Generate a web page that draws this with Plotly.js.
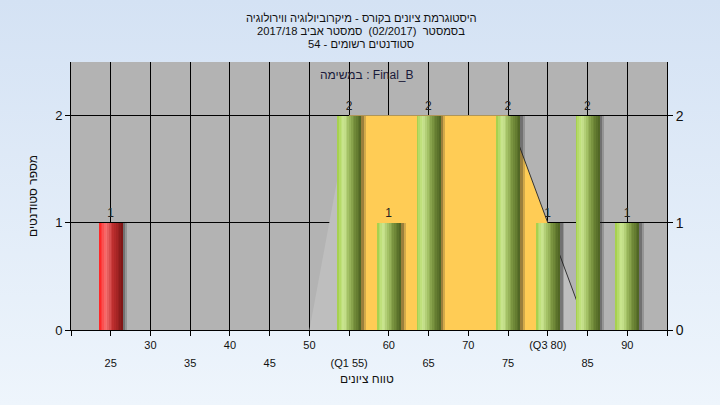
<!DOCTYPE html>
<html><head><meta charset="utf-8">
<script src="https://cdn.plot.ly/plotly-3.0.1.min.js"></script>
<style>
html,body{margin:0;padding:0;width:720px;height:405px;overflow:hidden;background:linear-gradient(#D4E2F4,#EEF5FC);}
#chart{width:720px;height:405px;}
</style>
</head><body><div id="chart"></div>
<script>
// ---- data ----
const titleLines = [
  "היסטוגרמת ציונים בקורס - מיקרוביולוגיה ווירולוגיה",
  "בסמסטר  (02/2017)  סמסטר אביב 2017/18",
  "סטודנטים רשומים - 54"
];
const taskLabel = "במשימה : Final_B";
const xAxisTitle = "טווח ציונים";
const yAxisTitle = "מספר סטודנטים";

const binCenters = [25, 55, 60, 65, 75, 80, 85, 90];
const binCounts  = [1, 2, 1, 2, 2, 1, 2, 1];
const binGroups  = ['fail', 'pass', 'pass', 'pass', 'pass', 'pass', 'pass', 'pass'];

const polyX = [50, 55, 60, 65, 70, 75, 80, 85];
const polyY = [0, 2, 2, 2, 2, 2, 1, 0];
const q1 = 55, q3 = 80;

const tickValues = [20, 25, 30, 35, 40, 45, 50, 55, 60, 65, 70, 75, 80, 85, 90, 95];
const tickLabels = ['', '25', '30', '35', '40', '45', '50', '(Q1 55)', '60', '65', '70', '75', '(Q3 80)', '85', '90', ''];
const yTickValues = [0, 1, 2];

// ---- helpers (styling only) ----
const keepSpaces = s => s.replace(/  /g, '\u00A0 ');
const gradStops = {
  pass: [[0, [160,204,66]], [0.12, [184,220,108]], [0.28, [204,230,148]], [0.45, [166,196,104]], [0.7, [118,144,60]], [1, [76,98,34]]],
  fail: [[0, [255,30,30]], [0.3, [246,116,116]], [0.6, [190,46,46]], [1, [122,20,20]]]
};
function grad(g, t) {
  const st = gradStops[g];
  for (let i = 1; i < st.length; i++) {
    if (t <= st[i][0]) {
      const a = st[i-1], b = st[i], f = (t - a[0]) / (b[0] - a[0]);
      const c = a[1].map((v, k) => Math.round(v + (b[1][k] - v) * f));
      return 'rgb(' + c.join(',') + ')';
    }
  }
  return 'rgb(' + st[st.length-1][1].join(',') + ')';
}

const traces = [];
traces.push({type:'scatter', x: polyX, y: polyY, mode:'lines', fill:'tozeroy',
  fillcolor:'#BEBEBE', line:{width:0, color:'#BEBEBE'}, hoverinfo:'skip', showlegend:false});
const iqX = polyX.filter(v => v >= q1 && v <= q3);
const iqY = polyY.filter((v, i) => polyX[i] >= q1 && polyX[i] <= q3);
traces.push({type:'scatter', x: iqX, y: iqY, mode:'lines', fill:'tozeroy',
  fillcolor:'#FFCC55', line:{width:0, color:'#FFCC55'}, hoverinfo:'skip', showlegend:false});
const tailX = polyX.filter(v => v >= q3 - 5);
const tailY = polyY.filter((v, i) => polyX[i] >= q3 - 5);
traces.push({type:'scatter', x: tailX, y: tailY, mode:'lines',
  line:{width:1, color:'#333'}, hoverinfo:'skip', showlegend:false});

const BAR_W = 3, N = 14;
[[0.6, 'rgba(30,30,30,0.2)'], [0.35, 'rgba(30,30,30,0.3)']].forEach(([sh, col]) => {
  traces.push({type:'bar', x: binCenters, y: binCounts, width: BAR_W, offset: -BAR_W/2 + sh,
    marker:{color: col, line:{width:0}}, xaxis:'x2', yaxis:'y2', hoverinfo:'skip', showlegend:false});
});
for (let i = 0; i < N; i++) {
  const t = (i + 0.5) / N;
  traces.push({type:'bar', x: binCenters, y: binCounts, width: BAR_W / N + 0.03,
    offset: -BAR_W/2 + i * BAR_W / N,
    marker:{color: binGroups.map(g => grad(g, t)), line:{width:0}},
    xaxis:'x2', yaxis:'y2', hoverinfo:'skip', showlegend:false});
}
traces.push({type:'bar', x: binCenters, y: binCounts, width: BAR_W, offset: -BAR_W/2,
  marker:{color:'rgba(0,0,0,0)', line:{width:0}}, text: binCounts.map(String),
  textposition:'outside', cliponaxis:false, textfont:{size:12, color:'#222'},
  xaxis:'x2', yaxis:'y2', hoverinfo:'skip', showlegend:false});

const row1 = tickLabels.map((t, i) => (tickValues[i] / 5) % 2 === 0 ? t : '');
const row2 = tickLabels.map((t, i) => (tickValues[i] / 5) % 2 === 1 ? t : '');

const layout = {
  width: 720, height: 405,
  margin: {l: 71, r: 53, t: 62, b: 75},
  paper_bgcolor: 'rgba(0,0,0,0)', plot_bgcolor: '#B3B3B3',
  barmode: 'overlay', bargap: 0, showlegend: false,
  font: {family: 'Liberation Sans, Arial, sans-serif', size: 12, color: '#111'},
  xaxis: {range: [20, 95], tickmode: 'array', tickvals: tickValues, ticktext: row1,
    showgrid: true, gridcolor: '#000', gridwidth: 1, ticks: 'outside', ticklen: 5,
    tickcolor: '#000', showline: true, linecolor: '#000', zeroline: false,
    tickfont: {size: 11, color: '#111'}, tickangle: 0},
  xaxis2: {range: [20, 95], overlaying: 'x', anchor: 'y2', side: 'bottom', tickmode: 'array',
    tickvals: tickValues, ticktext: row2, showgrid: false, ticks: '', showline: false,
    zeroline: false, tickfont: {size: 11, color: '#111'}, tickangle: 0, ticklabelstandoff: 25},
  yaxis: {range: [0, 2.5], tickmode: 'array', tickvals: yTickValues, showgrid: true,
    gridcolor: '#000', gridwidth: 1, ticks: 'outside', ticklen: 5, tickcolor: '#000',
    showline: true, linecolor: '#000', zeroline: false, tickfont: {size: 13, color: '#111'}},
  yaxis2: {range: [0, 2.5], overlaying: 'y', side: 'right', anchor: 'x2', tickmode: 'array',
    tickvals: yTickValues, showgrid: false, ticks: 'outside', ticklen: 5, tickcolor: '#000',
    showline: true, linecolor: '#000', zeroline: false, tickfont: {size: 14, color: '#111'}},
  annotations: [
    ...titleLines.map((s, i) => ({text: keepSpaces(s), xref: 'paper', yref: 'paper',
      x: (361 - 71) / 596, y: (330 - (18 + 13 * i)) / 268, xanchor: 'center', yanchor: 'middle',
      showarrow: false, font: {size: 11.2, color: '#111'}})),
    {text: taskLabel, xref: 'paper', yref: 'paper', x: 0.497, y: (330 - 75) / 268,
      xanchor: 'center', yanchor: 'middle', showarrow: false, font: {size: 12, color: '#1a1a3a'}},
    {text: xAxisTitle, xref: 'paper', yref: 'paper', x: 0.497, y: (330 - 379) / 268,
      xanchor: 'center', yanchor: 'middle', showarrow: false, font: {size: 12, color: '#111'}},
    {text: yAxisTitle, xref: 'paper', yref: 'paper', x: (33 - 71) / 596, y: (330 - 196) / 268,
      xanchor: 'center', yanchor: 'middle', textangle: -90, showarrow: false,
      font: {size: 12, color: '#111'}}
  ]
};

Plotly.newPlot('chart', traces, layout, {displayModeBar: false, staticPlot: true});
</script>
</body></html>
